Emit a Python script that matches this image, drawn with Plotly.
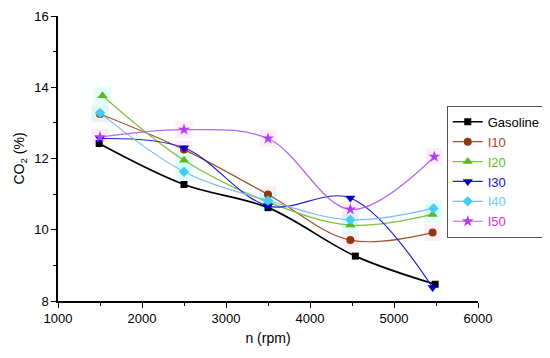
import plotly.graph_objects as go

# ---- data ----
gas_x = [1490, 2500, 3500, 4540, 5490]
gas_y = [12.42, 11.27, 10.62, 9.26, 8.47]

i10_x = [1500, 2500, 3500, 4480, 5460]
i10_y = [13.25, 12.25, 10.99, 9.71, 9.92]

i20_x = [1530, 2500, 3500, 4480, 5460]
i20_y = [13.76, 11.95, 10.78, 10.13, 10.43]

i30_x = [1500, 2500, 3500, 4480, 5460]
i30_y = [12.56, 12.30, 10.67, 10.89, 8.38]

i40_x = [1500, 2500, 3500, 4480, 5470]
i40_y = [13.28, 11.63, 10.82, 10.28, 10.60]

i50_x = [1500, 2500, 3500, 4480, 5480]
i50_y = [12.60, 12.81, 12.56, 10.57, 12.05]

series_names = ["Gasoline", "I10", "I20", "I30", "I40", "I50"]
x_ticks = [1000, 2000, 3000, 4000, 5000, 6000]
y_ticks = [8, 10, 12, 14, 16]

styles = [
    # line color, marker color, symbol, size, legend text color, halo, line width
    ("#000000", "#000000", "square", 7, "#000000", None, 1.7),
    ("#A0522D", "#8B3A0F", "circle", 8, "#B0402A", "rgba(255,205,235,0.35)", 1.2),
    ("#7CC23A", "#5DB81B", "triangle-up", 9, "#66BB22", "rgba(190,255,245,0.45)", 1.2),
    ("#2222CC", "#0000D0", "triangle-down", 9, "#1010C0", None, 1.2),
    ("#7FB8F0", "#44CCF5", "diamond", 8, "#66D0F5", "rgba(190,255,245,0.45)", 1.2),
    ("#B266F0", "#B040F0", "star", 9, "#CC33CC", "rgba(255,205,235,0.35)", 1.2),
]

data = [(gas_x, gas_y), (i10_x, i10_y), (i20_x, i20_y),
        (i30_x, i30_y), (i40_x, i40_y), (i50_x, i50_y)]

fig = go.Figure()

# faint halo squares behind markers
for (xs, ys), st in zip(data, styles):
    if st[5]:
        fig.add_trace(go.Scatter(
            x=xs, y=ys, mode="markers", showlegend=False, hoverinfo="skip",
            marker=dict(symbol="square", size=17, color=st[5], line=dict(width=0)),
        ))

for (xs, ys), name, st in zip(data, series_names, styles):
    fig.add_trace(go.Scatter(
        x=xs, y=ys, mode="lines+markers",
        name=f"<span style='color:{st[4]}'>{name}</span>",
        line=dict(color=st[0], width=st[6], shape="spline", smoothing=1),
        marker=dict(symbol=st[2], size=st[3], color=st[1], line=dict(width=0)),
    ))

font_family = "Liberation Sans, Arial, sans-serif"

# page body has an 8px margin, so the figure is sized to fit the 550x358 window
fig.update_layout(
    width=542, height=350,
    margin=dict(l=49.5, r=72, t=7.7, b=57, autoexpand=False),
    paper_bgcolor="white", plot_bgcolor="white",
    font=dict(family=font_family, size=13, color="#000000"),
    showlegend=True,
    legend=dict(
        x=0.9256, y=0.685, xanchor="left", yanchor="top",
        bordercolor="#555555", borderwidth=1, bgcolor="white",
        font=dict(size=13, family=font_family),
        itemwidth=30, tracegroupgap=0,
    ),
)

fig.update_xaxes(
    range=[1000, 6000], tickvals=x_ticks, ticktext=[str(v) for v in x_ticks],
    showgrid=False, zeroline=False, showline=True, linecolor="#000000", linewidth=1.5,
    ticks="outside", ticklen=5, tickwidth=1.2, tickcolor="#000000",
    minor=dict(ticks="outside", ticklen=3, tickwidth=1.2, tickcolor="#000000", dtick=500, showgrid=False),
    tickfont=dict(size=13), automargin=False,
    title=dict(text="n (rpm)", font=dict(size=14), standoff=8),
)
fig.update_yaxes(
    range=[8, 16], tickvals=y_ticks, ticktext=[str(v) for v in y_ticks],
    showgrid=False, zeroline=False, showline=True, linecolor="#000000", linewidth=1.5,
    ticks="outside", ticklen=5, tickwidth=1.2, tickcolor="#000000",
    minor=dict(ticks="outside", ticklen=3, tickwidth=1.2, tickcolor="#000000", dtick=1, showgrid=False),
    tickfont=dict(size=13), automargin=False,
    title=dict(text="CO<sub>2</sub> (%)", font=dict(size=14), standoff=6),
)

fig.write_html("out.html")
